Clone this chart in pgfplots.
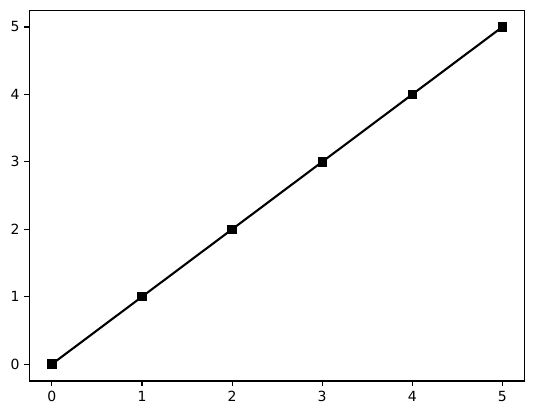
\documentclass[border=0pt]{standalone}
\usepackage{pgfplots}
\pgfplotsset{compat=1.18}
\usepackage{fontspec}
\setmainfont{DejaVu Sans}
\begin{document}
\begin{tikzpicture}
\begin{axis}[
  at={(0,0)}, anchor=south west,
  scale only axis, width=354pt, height=265pt,
  xmin=-0.25, xmax=5.25, ymin=-0.25, ymax=5.25,
  xtick={0,1,2,3,4,5}, ytick={0,1,2,3,4,5},
  xtick pos=left, ytick pos=left, tick align=outside,
  major tick length=3.5pt,
  every tick/.style={black, line width=0.8pt},
  axis line style={line width=0.8pt},
  tick label style={font=\fontsize{10}{12}\selectfont},
  /pgf/number format/assume math mode=true,
]
\addplot[black, line width=1.5pt, mark=square*, mark size=2.6pt, mark options={solid}]
  coordinates {(0,0) (1,1) (2,2) (3,3) (4,4) (5,5)};
\end{axis}
\pgfresetboundingbox
\useasboundingbox (-21pt,-22.8pt) rectangle (360.5pt,272.2pt);
\end{tikzpicture}
\end{document}
